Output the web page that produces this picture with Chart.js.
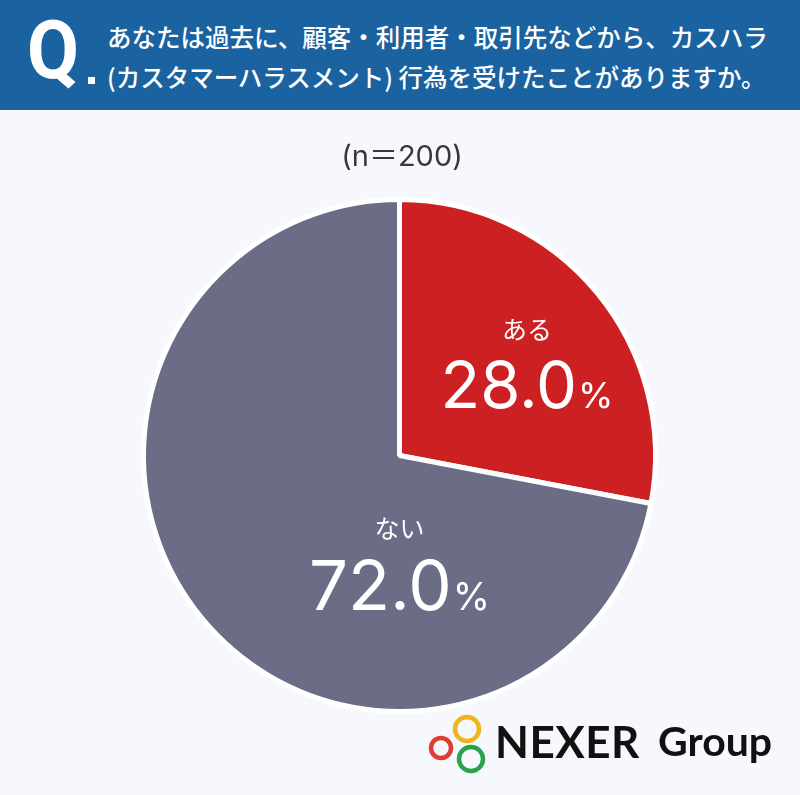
<!DOCTYPE html>
<html lang="ja">
<head>
<meta charset="utf-8">
<script src="https://cdn.jsdelivr.net/npm/chart.js@4"></script>
<style>
  html, body { margin: 0; padding: 0; }
  body { width: 800px; height: 795px; background: #f6f8fd; position: relative; overflow: hidden;
         font-family: "Noto Sans CJK JP", "Noto Sans", sans-serif; }
  #head { position: absolute; left: 0; top: 0; width: 800px; height: 110px; background: #1b62a1; }
  #q { position: absolute; left: 27px; top: 9px; color: #fff; font: bold 82px "Roboto", sans-serif;
       line-height: 82px; transform: scaleX(0.92); transform-origin: left top; }
  #dot { position: absolute; left: 88px; top: 77px; width: 7px; height: 7px; background: #fff; }
  #qtext { position: absolute; left: 107px; top: 17px; color: #fff; font-size: 24.5px; font-weight: 500;
           line-height: 40px; white-space: nowrap; }
  #wrap { position: absolute; left: 0; top: 0; width: 800px; height: 795px; }
  #logo { position: absolute; left: 425px; top: 710px; width: 360px; height: 70px; }
  #logo .nx { position: absolute; left: 70px; top: 5px; font: bold 44px "Lato", sans-serif; color: #111; letter-spacing: 0.5px; }
  #logo .gp { position: absolute; left: 233px; top: 6px; font: bold 41px "Lato", sans-serif; color: #111; }
</style>
</head>
<body>
<div id="head">
  <div id="q">Q</div>
  <div id="dot"></div>
  <div id="qtext">あなたは過去に、顧客・利用者・取引先などから、カスハラ<br>(カスタマーハラスメント) 行為を受けたことがありますか。</div>
</div>
<div id="wrap"><canvas id="pie"></canvas></div>
<div id="logo">
  <svg width="70" height="70" style="position:absolute;left:0;top:0">
    <circle cx="16" cy="38" r="10" fill="none" stroke="#e03c31" stroke-width="4.5"/>
    <circle cx="42" cy="19" r="12" fill="none" stroke="#f1b51c" stroke-width="4.5"/>
    <circle cx="46" cy="49" r="12" fill="none" stroke="#2aa24a" stroke-width="4.5"/>
  </svg>
  <span class="nx">NEXER</span>
  <span class="gp">Group</span>
</div>
<script>
const answers = ["ある", "ない"];
const shares = [28.0, 72.0];
const sliceColors = ["#cc2022", "#6b6d86"];
const sampleNote = "(n＝200)";

// where each slice's number baseline sits, as fraction of radius from the pie center
const labelAnchors = [[0.498, -0.186], [0.0, 0.605]];
const numberSizes = [65, 69];
const labelGap = [78, 82];

const sliceLabels = {
    id: "sliceLabels",
    afterDatasetsDraw(chart) {
        const ctx = chart.ctx;
        const meta = chart.getDatasetMeta(0);
        const arc0 = meta.data[0];
        const cx = arc0.x, cy = arc0.y, r = arc0.outerRadius;

        ctx.save();
        ctx.fillStyle = "#383838";
        ctx.font = "400 29px Inter, 'Noto Sans CJK JP'";
        ctx.textAlign = "center";
        ctx.textBaseline = "middle";
        ctx.fillText(sampleNote, 402, 157);

        meta.data.forEach((arc, i) => {
            const x = cx + labelAnchors[i][0] * r;
            const y = cy + labelAnchors[i][1] * r;
            ctx.fillStyle = "#fff";
            ctx.textAlign = "center";
            ctx.textBaseline = "middle";
            ctx.font = "400 25px 'Noto Sans CJK JP'";
            ctx.fillText(answers[i], x, y - labelGap[i]);

            const num = shares[i].toFixed(1);
            const big = numberSizes[i];
            const small = Math.round(big * 0.55);
            ctx.textBaseline = "alphabetic";
            ctx.font = `400 ${big}px Inter`;
            const w1 = ctx.measureText(num).width;
            ctx.font = `400 ${small}px Inter`;
            const w2 = ctx.measureText("%").width;
            const left = x - (w1 + w2 + 1) / 2;
            ctx.textAlign = "left";
            ctx.font = `400 ${big}px Inter`;
            ctx.fillText(num, left, y);
            ctx.font = `400 ${small}px Inter`;
            ctx.fillText("%", left + w1 + 1, y);
        });
        ctx.restore();
    }
};

new Chart(document.getElementById("pie"), {
    type: "pie",
    data: {
        labels: answers,
        datasets: [{
            data: shares,
            backgroundColor: sliceColors,
            borderColor: "#ffffff",
            borderWidth: 5
        }]
    },
    options: {
        responsive: true,
        maintainAspectRatio: false,
        animation: false,
        layout: { padding: { left: 141, right: 142, top: 197, bottom: 81 } },
        plugins: {
            legend: { display: false },
            tooltip: { enabled: false }
        }
    },
    plugins: [sliceLabels]
});
</script>
</body>
</html>
